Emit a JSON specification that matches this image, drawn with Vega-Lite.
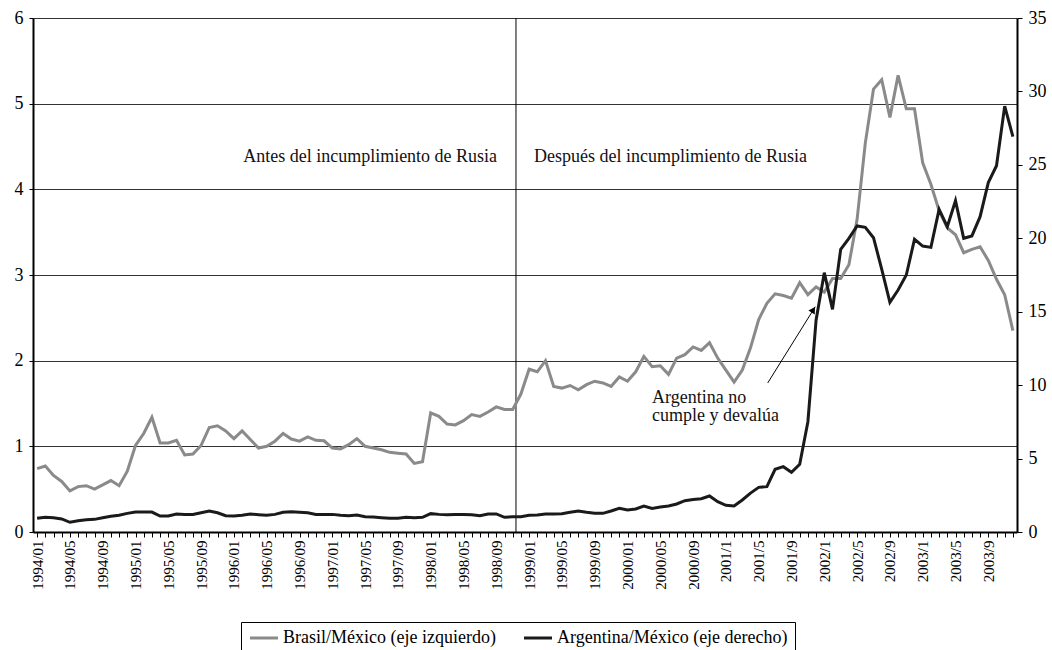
{
  "$schema": "https://vega.github.io/schema/vega-lite/v6.json",
  "width": 984,
  "height": 514,
  "autosize": {"type": "none"},
  "padding": {"left": 33, "top": 18, "right": 35, "bottom": 118},
  "background": "white",
  "config": {
    "view": {"stroke": null},
    "font": "Liberation Serif",
    "axis": {
      "labelFont": "Liberation Serif",
      "labelColor": "#000",
      "domainColor": "#000",
      "domainWidth": 2,
      "tickColor": "#000",
      "tickWidth": 1,
      "title": null
    },
    "legend": {
      "orient": "none",
      "legendX": 208,
      "legendY": 604,
      "direction": "horizontal",
      "symbolType": "M-2,0L2,0",
      "symbolStrokeWidth": 3,
      "symbolSize": 196,
      "symbolOffset": 7,
      "labelFont": "Liberation Serif",
      "labelFontSize": 18,
      "labelColor": "#000",
      "labelLimit": 0,
      "strokeColor": "#000",
      "padding": 7,
      "columnPadding": 22,
      "labelOffset": 10
    }
  },
  "datasets": {
    "series": [
      {"i":0,"m":"1994/01","b":0.74,"a":0.93},
      {"i":1,"m":"1994/02","b":0.77,"a":1.0},
      {"i":2,"m":"1994/03","b":0.66,"a":0.97},
      {"i":3,"m":"1994/04","b":0.59,"a":0.89},
      {"i":4,"m":"1994/05","b":0.48,"a":0.66},
      {"i":5,"m":"1994/06","b":0.53,"a":0.77},
      {"i":6,"m":"1994/07","b":0.54,"a":0.84},
      {"i":7,"m":"1994/08","b":0.50,"a":0.86},
      {"i":8,"m":"1994/09","b":0.55,"a":0.97},
      {"i":9,"m":"1994/10","b":0.60,"a":1.07},
      {"i":10,"m":"1994/11","b":0.54,"a":1.14},
      {"i":11,"m":"1994/12","b":0.71,"a":1.27},
      {"i":12,"m":"1995/01","b":1.01,"a":1.36},
      {"i":13,"m":"1995/02","b":1.15,"a":1.36},
      {"i":14,"m":"1995/03","b":1.34,"a":1.36},
      {"i":15,"m":"1995/04","b":1.04,"a":1.09},
      {"i":16,"m":"1995/05","b":1.04,"a":1.09},
      {"i":17,"m":"1995/06","b":1.07,"a":1.23},
      {"i":18,"m":"1995/07","b":0.90,"a":1.2},
      {"i":19,"m":"1995/08","b":0.91,"a":1.2},
      {"i":20,"m":"1995/09","b":1.01,"a":1.31},
      {"i":21,"m":"1995/10","b":1.22,"a":1.43},
      {"i":22,"m":"1995/11","b":1.24,"a":1.31},
      {"i":23,"m":"1995/12","b":1.18,"a":1.11},
      {"i":24,"m":"1996/01","b":1.09,"a":1.09},
      {"i":25,"m":"1996/02","b":1.18,"a":1.14},
      {"i":26,"m":"1996/03","b":1.08,"a":1.23},
      {"i":27,"m":"1996/04","b":0.98,"a":1.18},
      {"i":28,"m":"1996/05","b":1.00,"a":1.14},
      {"i":29,"m":"1996/06","b":1.06,"a":1.2},
      {"i":30,"m":"1996/07","b":1.15,"a":1.34},
      {"i":31,"m":"1996/08","b":1.085,"a":1.38},
      {"i":32,"m":"1996/09","b":1.06,"a":1.34},
      {"i":33,"m":"1996/10","b":1.11,"a":1.31},
      {"i":34,"m":"1996/11","b":1.07,"a":1.2},
      {"i":35,"m":"1996/12","b":1.065,"a":1.2},
      {"i":36,"m":"1997/01","b":0.98,"a":1.2},
      {"i":37,"m":"1997/02","b":0.97,"a":1.14},
      {"i":38,"m":"1997/03","b":1.02,"a":1.11},
      {"i":39,"m":"1997/04","b":1.09,"a":1.16},
      {"i":40,"m":"1997/05","b":1.00,"a":1.04},
      {"i":41,"m":"1997/06","b":0.98,"a":1.02},
      {"i":42,"m":"1997/07","b":0.96,"a":0.97},
      {"i":43,"m":"1997/08","b":0.93,"a":0.93},
      {"i":44,"m":"1997/09","b":0.92,"a":0.93},
      {"i":45,"m":"1997/10","b":0.91,"a":1.0},
      {"i":46,"m":"1997/11","b":0.80,"a":0.97},
      {"i":47,"m":"1997/12","b":0.82,"a":1.0},
      {"i":48,"m":"1998/01","b":1.39,"a":1.25},
      {"i":49,"m":"1998/02","b":1.35,"a":1.2},
      {"i":50,"m":"1998/03","b":1.26,"a":1.18},
      {"i":51,"m":"1998/04","b":1.25,"a":1.2},
      {"i":52,"m":"1998/05","b":1.30,"a":1.2},
      {"i":53,"m":"1998/06","b":1.37,"a":1.18},
      {"i":54,"m":"1998/07","b":1.35,"a":1.11},
      {"i":55,"m":"1998/08","b":1.40,"a":1.23},
      {"i":56,"m":"1998/09","b":1.46,"a":1.23},
      {"i":57,"m":"1998/10","b":1.43,"a":1.0},
      {"i":58,"m":"1998/11","b":1.43,"a":1.04},
      {"i":59,"m":"1998/12","b":1.61,"a":1.04},
      {"i":60,"m":"1999/01","b":1.90,"a":1.14},
      {"i":61,"m":"1999/02","b":1.87,"a":1.16},
      {"i":62,"m":"1999/03","b":2.00,"a":1.23},
      {"i":63,"m":"1999/04","b":1.70,"a":1.23},
      {"i":64,"m":"1999/05","b":1.68,"a":1.25},
      {"i":65,"m":"1999/06","b":1.71,"a":1.34},
      {"i":66,"m":"1999/07","b":1.66,"a":1.43},
      {"i":67,"m":"1999/08","b":1.72,"a":1.34},
      {"i":68,"m":"1999/09","b":1.76,"a":1.27},
      {"i":69,"m":"1999/10","b":1.74,"a":1.27},
      {"i":70,"m":"1999/11","b":1.70,"a":1.43},
      {"i":71,"m":"1999/12","b":1.81,"a":1.61},
      {"i":72,"m":"2000/01","b":1.76,"a":1.5},
      {"i":73,"m":"2000/02","b":1.87,"a":1.57},
      {"i":74,"m":"2000/03","b":2.05,"a":1.77},
      {"i":75,"m":"2000/04","b":1.93,"a":1.61},
      {"i":76,"m":"2000/05","b":1.94,"a":1.7},
      {"i":77,"m":"2000/06","b":1.84,"a":1.77},
      {"i":78,"m":"2000/07","b":2.03,"a":1.91},
      {"i":79,"m":"2000/08","b":2.07,"a":2.13},
      {"i":80,"m":"2000/09","b":2.16,"a":2.22},
      {"i":81,"m":"2000/10","b":2.12,"a":2.27},
      {"i":82,"m":"2000/11","b":2.21,"a":2.45},
      {"i":83,"m":"2000/12","b":2.03,"a":2.06},
      {"i":84,"m":"2001/1","b":1.89,"a":1.82},
      {"i":85,"m":"2001/2","b":1.75,"a":1.77},
      {"i":86,"m":"2001/3","b":1.89,"a":2.18},
      {"i":87,"m":"2001/4","b":2.15,"a":2.65},
      {"i":88,"m":"2001/5","b":2.48,"a":3.04},
      {"i":89,"m":"2001/6","b":2.67,"a":3.09},
      {"i":90,"m":"2001/7","b":2.78,"a":4.27},
      {"i":91,"m":"2001/8","b":2.76,"a":4.45},
      {"i":92,"m":"2001/9","b":2.73,"a":4.07},
      {"i":93,"m":"2001/10","b":2.91,"a":4.61},
      {"i":94,"m":"2001/11","b":2.77,"a":7.51},
      {"i":95,"m":"2001/12","b":2.86,"a":14.44},
      {"i":96,"m":"2002/1","b":2.80,"a":17.66},
      {"i":97,"m":"2002/2","b":2.96,"a":15.16},
      {"i":98,"m":"2002/3","b":2.96,"a":19.25},
      {"i":99,"m":"2002/4","b":3.12,"a":20.0},
      {"i":100,"m":"2002/5","b":3.65,"a":20.84},
      {"i":101,"m":"2002/6","b":4.54,"a":20.75},
      {"i":102,"m":"2002/7","b":5.17,"a":20.04},
      {"i":103,"m":"2002/8","b":5.28,"a":17.9},
      {"i":104,"m":"2002/9","b":4.84,"a":15.64},
      {"i":105,"m":"2002/10","b":5.33,"a":16.48},
      {"i":106,"m":"2002/11","b":4.94,"a":17.5},
      {"i":107,"m":"2002/12","b":4.94,"a":19.93},
      {"i":108,"m":"2003/1","b":4.31,"a":19.47},
      {"i":109,"m":"2003/2","b":4.06,"a":19.38},
      {"i":110,"m":"2003/3","b":3.75,"a":21.97},
      {"i":111,"m":"2003/4","b":3.55,"a":20.79},
      {"i":112,"m":"2003/5","b":3.47,"a":22.56},
      {"i":113,"m":"2003/6","b":3.26,"a":20.0},
      {"i":114,"m":"2003/7","b":3.30,"a":20.16},
      {"i":115,"m":"2003/8","b":3.33,"a":21.47},
      {"i":116,"m":"2003/9","b":3.17,"a":23.79},
      {"i":117,"m":"2003/10","b":2.95,"a":24.94},
      {"i":118,"m":"2003/11","b":2.77,"a":29.0},
      {"i":119,"m":"2003/12","b":2.35,"a":26.92}
    ],
    "notesRight": [
      {"x": 56.1, "y": 4.38, "t": "Antes del incumplimiento de Rusia"}
    ],
    "notesLeft": [
      {"x": 60.6, "y": 4.38, "t": "Después del incumplimiento de Rusia"},
      {"x": 75.0, "y": 1.56, "t": "Argentina no"},
      {"x": 75.0, "y": 1.35, "t": "cumple y devalúa"}
    ],
    "arrow": [
      {"x": 89.1, "y": 1.74, "x2": 94.9, "y2": 2.63}
    ],
    "divider": [
      {"x": 58.4}
    ]
  },
  "layer": [
    {
      "layer": [
        {
          "data": {"name": "divider"},
          "mark": {"type": "rule", "color": "#000", "strokeWidth": 1},
          "encoding": {
            "x": {"field": "x", "type": "quantitative", "scale": {"domain": [-0.5, 119.5], "nice": false, "zero": false}}
          }
        },
        {
          "data": {"name": "series"},
          "mark": {"type": "line", "strokeWidth": 3, "strokeJoin": "miter"},
          "encoding": {
            "x": {
              "field": "i",
              "type": "quantitative",
              "scale": {"domain": [-0.5, 119.5], "nice": false, "zero": false},
              "axis": {
                "orient": "bottom",
                "grid": false,
                "tickCount": 120,
                "tickSize": 5,
                "labelAngle": 270,
                "labelFontSize": 15,
                "labelPadding": 3,
                "labelFlush": false,
                "labelOverlap": false,
                "labelBound": false,
                "labelExpr": "datum.value % 4 == 0 ? (1994 + floor(datum.value / 12)) + '/' + (datum.value < 84 && datum.value % 12 < 9 ? '0' : '') + (datum.value % 12 + 1) : ''"
              }
            },
            "y": {
              "field": "b",
              "type": "quantitative",
              "scale": {"domain": [0, 6], "nice": false},
              "axis": {
                "orient": "left",
                "values": [0, 1, 2, 3, 4, 5, 6],
                "format": "d",
                "grid": true,
                "gridColor": "#333",
                "gridWidth": 1.2,
                "gridOpacity": 1,
                "tickSize": 4,
                "labelFontSize": 18,
                "labelPadding": 6
              }
            },
            "color": {
              "datum": "Brasil/México (eje izquierdo)",
              "scale": {
                "domain": ["Brasil/México (eje izquierdo)", "Argentina/México (eje derecho)"],
                "range": ["#8a8a8a", "#1a1a1a"]
              },
              "legend": {"title": null}
            }
          }
        },
        {
          "data": {"name": "notesRight"},
          "mark": {"type": "text", "fontSize": 18, "font": "Liberation Serif", "color": "#111", "baseline": "middle", "align": "right"},
          "encoding": {
            "x": {"field": "x", "type": "quantitative"},
            "y": {"field": "y", "type": "quantitative"},
            "text": {"field": "t"}
          }
        },
        {
          "data": {"name": "notesLeft"},
          "mark": {"type": "text", "fontSize": 18, "font": "Liberation Serif", "color": "#111", "baseline": "middle", "align": "left"},
          "encoding": {
            "x": {"field": "x", "type": "quantitative"},
            "y": {"field": "y", "type": "quantitative"},
            "text": {"field": "t"}
          }
        },
        {
          "data": {"name": "arrow"},
          "mark": {"type": "rule", "color": "#000", "strokeWidth": 1},
          "encoding": {
            "x": {"field": "x", "type": "quantitative"},
            "y": {"field": "y", "type": "quantitative"},
            "x2": {"field": "x2"},
            "y2": {"field": "y2"}
          }
        },
        {
          "data": {"name": "arrow"},
          "mark": {"type": "point", "shape": "triangle-up", "filled": true, "color": "#000", "size": 55, "angle": 32, "opacity": 1, "xOffset": -2, "yOffset": 3},
          "encoding": {
            "x": {"field": "x2", "type": "quantitative"},
            "y": {"field": "y2", "type": "quantitative"}
          }
        }
      ]
    },
    {
      "data": {"name": "series"},
      "mark": {"type": "line", "strokeWidth": 3, "strokeJoin": "miter"},
      "encoding": {
        "x": {"field": "i", "type": "quantitative"},
        "y": {
          "field": "a",
          "type": "quantitative",
          "scale": {"domain": [0, 35], "nice": false},
          "axis": {
            "orient": "right",
            "values": [0, 5, 10, 15, 20, 25, 30, 35],
            "grid": false,
            "tickSize": 5,
            "labelFontSize": 18,
            "labelPadding": 6
          }
        },
        "color": {"datum": "Argentina/México (eje derecho)"}
      }
    }
  ],
  "resolve": {"scale": {"y": "independent"}, "axis": {"y": "independent"}}
}
